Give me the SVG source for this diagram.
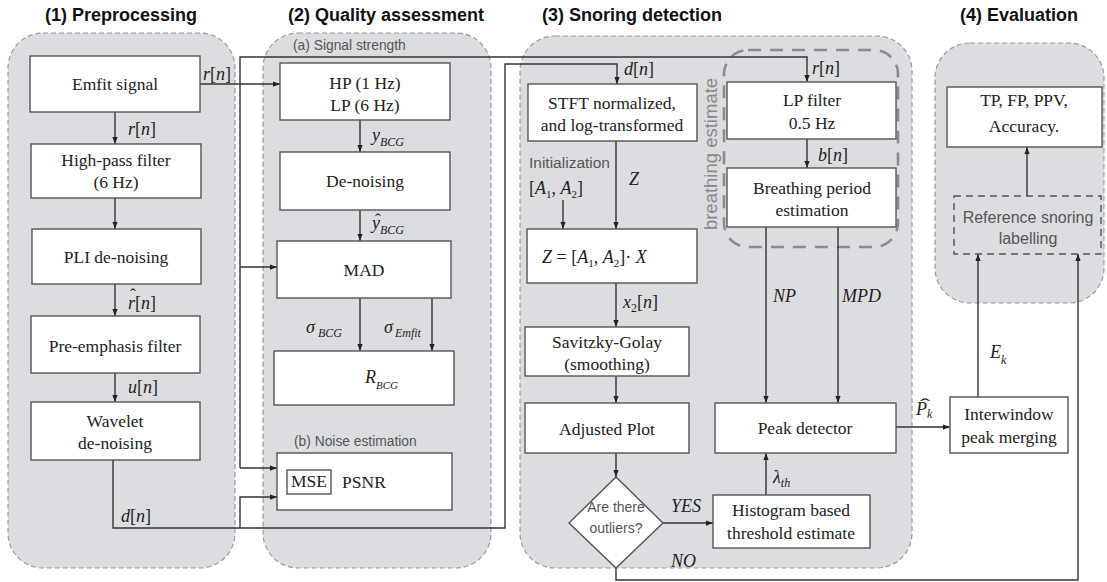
<svg xmlns="http://www.w3.org/2000/svg" width="1107" height="582" viewBox="0 0 1107 582">
<defs>
<marker id="ah" viewBox="0 0 8 6" refX="8" refY="3" markerWidth="7" markerHeight="5.5" orient="auto" markerUnits="userSpaceOnUse"><path d="M0,0 L8,3 L0,6 z" fill="#222"/></marker>
<style>
.panel{fill:#dcdde0;stroke:#9a9a9a;stroke-width:1.2;stroke-dasharray:5 3}
.box{fill:#fff;stroke:#555;stroke-width:1.4}
.dbox{fill:none;stroke:#555;stroke-width:1.4;stroke-dasharray:7 5}
.br{fill:none;stroke:#8c8c8c;stroke-width:2.6;stroke-dasharray:13 9}
.c{fill:none;stroke:#333;stroke-width:1.4}
.ca{fill:none;stroke:#333;stroke-width:1.4;marker-end:url(#ah)}
.h{font-family:"Liberation Sans",Arial,sans-serif;font-weight:bold;font-size:18px;fill:#111;text-anchor:middle}
.t{font-family:"Liberation Serif","Times New Roman",serif;font-size:17.5px;fill:#222;text-anchor:middle}
.m{font-family:"Liberation Serif","Times New Roman",serif;font-style:italic;font-size:18px;fill:#222}
.s{font-family:"Liberation Sans",Arial,sans-serif;fill:#555}
</style>
</defs>
<rect width="1107" height="582" fill="#fff"/>

<g id="titles">
<text class="h" x="121" y="21">(1) Preprocessing</text>
<text class="h" x="386" y="21">(2) Quality assessment</text>
<text class="h" x="632" y="21">(3) Snoring detection</text>
<text class="h" x="1019" y="21">(4) Evaluation</text>
</g>

<g id="panels">
<rect class="panel" x="8" y="33" width="227" height="535" rx="35"/>
<rect class="panel" x="263" y="33" width="228" height="535" rx="35"/>
<rect class="panel" x="520" y="36" width="392" height="532" rx="35"/>
<rect class="panel" x="935" y="43" width="169" height="260" rx="35"/>
</g>

<g id="breathing-estimate">
<rect class="br" x="724" y="50" width="174" height="197" rx="24"/>
<text class="s" transform="translate(717,154) rotate(-90)" text-anchor="middle" font-size="18.5" style="fill:#888">breathing estimate</text>
</g>

<g id="connectors">
<path class="ca" d="M115,112 V144"/>
<path class="ca" d="M115,198 V229"/>
<path class="ca" d="M115,284 V316"/>
<path class="ca" d="M115,373 V402"/>
<path class="ca" d="M113,460 V528 H505 V64 H617 V84"/>
<path class="ca" d="M240,528 V497 H277"/>
<path class="ca" d="M200,84 H280"/>
<path class="ca" d="M240,468 V57 H807 V82"/>
<path class="ca" d="M240,468 H277"/>
<path class="ca" d="M240,267 H277"/>
<path class="ca" d="M360,120 V152"/>
<path class="ca" d="M360,210 V241"/>
<path class="ca" d="M360,298 V351"/>
<path class="ca" d="M432,298 V351"/>
<path class="ca" d="M616,141 V229"/>
<path class="ca" d="M563,200 V229"/>
<path class="ca" d="M616,283 V327"/>
<path class="ca" d="M616,376 V403"/>
<path class="ca" d="M616,453 V477"/>
<path class="ca" d="M663,523 H713"/>
<path class="ca" d="M616,568 V580 H1078 V254"/>
<path class="ca" d="M766,495 V453"/>
<path class="ca" d="M807,139 V168"/>
<path class="ca" d="M766,227 V403"/>
<path class="ca" d="M838,227 V403"/>
<path class="ca" d="M896,427 H950"/>
<path class="ca" d="M978,397 V254"/>
<path class="ca" d="M1027,196 V147"/>
</g>

<g id="emfit"><rect class="box" x="30" y="56" width="170" height="56"/><text class="t" x="115" y="90">Emfit signal</text></g>
<g id="highpass"><rect class="box" x="31" y="144" width="170" height="54"/><text class="t" x="116" y="166">High-pass filter</text><text class="t" x="116" y="188">(6 Hz)</text></g>
<g id="pli"><rect class="box" x="32" y="229" width="169" height="55"/><text class="t" x="116" y="263">PLI de-noising</text></g>
<g id="preemph"><rect class="box" x="31" y="316" width="169" height="57"/><text class="t" x="115" y="352">Pre-emphasis filter</text></g>
<g id="wavelet"><rect class="box" x="31" y="402" width="169" height="58"/><text class="t" x="115" y="427">Wavelet</text><text class="t" x="115" y="449">de-noising</text></g>

<g id="hplp"><rect class="box" x="280" y="63" width="170" height="57"/><text class="t" x="365" y="89">HP (1 Hz)</text><text class="t" x="365" y="111">LP (6 Hz)</text></g>
<g id="denoising"><rect class="box" x="280" y="152" width="170" height="58"/><text class="t" x="365" y="187">De-noising</text></g>
<g id="mad"><rect class="box" x="277" y="241" width="174" height="57"/><text class="t" x="364" y="276">MAD</text></g>
<g id="rbcg"><rect class="box" x="274" y="351" width="180" height="54"/><text class="m" x="365" y="383" font-size="22">R<tspan font-size="11" dy="6">BCG</tspan></text></g>
<g id="psnr"><rect class="box" x="277" y="453" width="175" height="57"/><rect class="box" x="287" y="470" width="44" height="24"/><text class="t" x="309" y="487" font-size="12.5">MSE</text><text class="t" x="364" y="488">PSNR</text></g>

<g id="stft"><rect class="box" x="528" y="84" width="169" height="57"/><text class="t" x="612" y="109">STFT normalized,</text><text class="t" x="612" y="131">and log-transformed</text></g>
<g id="zbox"><rect class="box" x="527" y="229" width="170" height="54"/><text class="m" x="542" y="263" font-size="20">Z <tspan font-style="normal">= [</tspan>A<tspan font-size="11" dy="4" font-style="normal">1</tspan><tspan dy="-4" font-style="normal">, </tspan>A<tspan font-size="11" dy="4" font-style="normal">2</tspan><tspan dy="-4" font-style="normal">]· </tspan>X</text></g>
<g id="savitzky"><rect class="box" x="525" y="327" width="164" height="49"/><text class="t" x="607" y="348">Savitzky-Golay</text><text class="t" x="607" y="370">(smoothing)</text></g>
<g id="adjusted"><rect class="box" x="525" y="403" width="164" height="50"/><text class="t" x="607" y="435">Adjusted Plot</text></g>
<g id="outliers"><path class="box" d="M616,477 L663,523 L616,568 L569,523 Z"/><text class="s" x="616" y="512" font-size="14" text-anchor="middle">Are there</text><text class="s" x="616" y="533" font-size="14" text-anchor="middle">outliers?</text></g>
<g id="lpfilter"><rect class="box" x="727" y="82" width="169" height="57"/><text class="t" x="812" y="106">LP filter</text><text class="t" x="812" y="129">0.5 Hz</text></g>
<g id="breathing"><rect class="box" x="727" y="168" width="169" height="59"/><text class="t" x="812" y="194">Breathing period</text><text class="t" x="812" y="216">estimation</text></g>
<g id="peak"><rect class="box" x="715" y="403" width="181" height="50"/><text class="t" x="805" y="434">Peak detector</text></g>
<g id="histogram"><rect class="box" x="713" y="495" width="157" height="53"/><text class="t" x="791" y="516">Histogram based</text><text class="t" x="791" y="539">threshold estimate</text></g>

<g id="interwindow"><rect class="box" x="950" y="397" width="118" height="56"/><text class="t" x="1009" y="420" font-size="16.5">Interwindow</text><text class="t" x="1009" y="443" font-size="16.5">peak merging</text></g>
<g id="metrics"><rect class="box" x="947" y="87" width="155" height="60"/><text class="t" x="1024" y="106" font-size="15.5">TP, FP, PPV,</text><text class="t" x="1024" y="132" font-size="15.5">Accuracy.</text></g>
<g id="reference"><rect class="dbox" x="954" y="196" width="147" height="58"/><text class="s" x="1028" y="223" font-size="16" text-anchor="middle">Reference snoring</text><text class="s" x="1028" y="244" font-size="16" text-anchor="middle">labelling</text></g>

<g id="labels">
<text class="m" x="203" y="80">r<tspan font-style="normal">[</tspan>n<tspan font-style="normal">]</tspan></text>
<text class="m" x="128" y="135">r<tspan font-style="normal">[</tspan>n<tspan font-style="normal">]</tspan></text>
<text class="m" x="128" y="309">r<tspan font-style="normal">[</tspan>n<tspan font-style="normal">]</tspan></text>
<text class="t" x="133" y="300" font-size="18">ˆ</text>
<text class="m" x="128" y="393">u<tspan font-style="normal">[</tspan>n<tspan font-style="normal">]</tspan></text>
<text class="m" x="121" y="522">d<tspan font-style="normal">[</tspan>n<tspan font-style="normal">]</tspan></text>
<text class="s" x="293" y="50" font-size="13.8">(a) Signal strength</text>
<text class="s" x="294" y="446" font-size="13.8">(b) Noise estimation</text>
<text class="m" x="372" y="141" font-size="19">y<tspan font-size="12" dy="5">BCG</tspan></text>
<text class="m" x="372" y="229" font-size="19">y<tspan font-size="12" dy="5">BCG</tspan></text>
<text class="t" x="378" y="225" font-size="18">ˆ</text>
<text class="m" x="306" y="333" font-size="25">σ<tspan font-size="12" dy="4" dx="3">BCG</tspan></text>
<text class="m" x="384" y="333" font-size="25">σ<tspan font-size="12" dy="4" dx="2">Emfit</tspan></text>
<text class="m" x="624" y="75">d<tspan font-style="normal">[</tspan>n<tspan font-style="normal">]</tspan></text>
<text class="m" x="812" y="74">r<tspan font-style="normal">[</tspan>n<tspan font-style="normal">]</tspan></text>
<text class="m" x="818" y="161">b<tspan font-style="normal">[</tspan>n<tspan font-style="normal">]</tspan></text>
<text class="s" x="529" y="168" font-size="15.5">Initialization</text>
<text class="m" x="529" y="194" font-size="20"><tspan font-style="normal">[</tspan>A<tspan font-size="11" dy="4" font-style="normal">1</tspan><tspan dy="-4" font-style="normal">, </tspan>A<tspan font-size="11" dy="4" font-style="normal">2</tspan><tspan dy="-4" font-style="normal">]</tspan></text>
<text class="m" x="629" y="185" font-size="18">Z</text>
<text class="m" x="623" y="308">x<tspan font-size="12" dy="4" font-style="normal">2</tspan><tspan dy="-4" font-style="normal">[</tspan>n<tspan font-style="normal">]</tspan></text>
<text class="m" x="773" y="302" font-size="14">NP</text>
<text class="m" x="842" y="302" font-size="14">MPD</text>
<text class="m" x="773" y="483" font-size="21">λ<tspan font-size="12" dy="4">th</tspan></text>
<text class="m" x="671" y="512" font-size="13.5">YES</text>
<text class="m" x="671" y="567" font-size="13.5">NO</text>
<text class="m" x="916" y="415" font-size="21">P<tspan font-size="12" dy="3">k</tspan></text>
<text class="t" transform="translate(925,410) scale(1.8,1)" font-size="22">ˆ</text>
<text class="m" x="990" y="358" font-size="21">E<tspan font-size="12" dy="6">k</tspan></text>
</g>
</svg>
